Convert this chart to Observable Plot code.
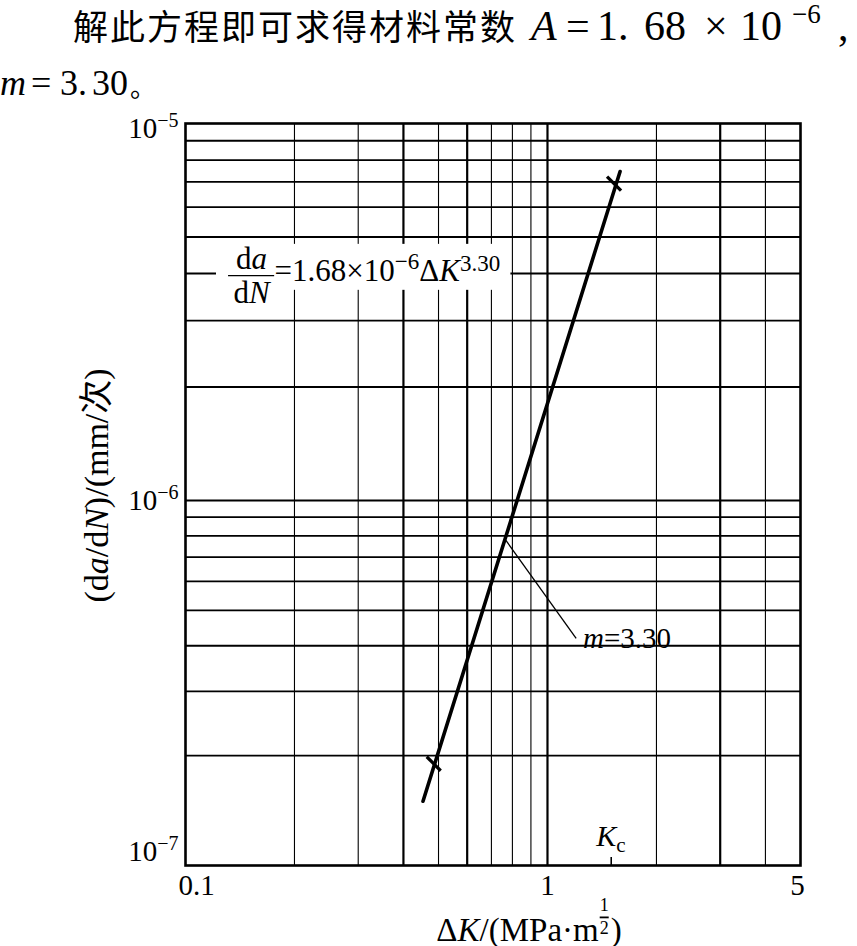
<!DOCTYPE html>
<html>
<head>
<meta charset="utf-8">
<script src="https://cdn.jsdelivr.net/npm/d3@7"></script>
<script src="https://cdn.jsdelivr.net/npm/@observablehq/plot@0.6"></script>
<style>
  body { margin: 0; background: #fff; }
  svg { display: block; }
  #head text { fill: #000; }
  #head .lat { font-family: "Liberation Serif", "Times New Roman", "DejaVu Serif", serif; }
  #head .cjk { font-family: "Noto Sans CJK SC", sans-serif; }
</style>
</head>
<body>
<svg id="head" width="857" height="105" xmlns="http://www.w3.org/2000/svg">
  <text class="cjk" x="73" y="40" font-size="35" letter-spacing="2">解此方程即可求得材料常数</text>
  <g class="lat" font-size="42">
    <text class="lat" x="531" y="40" font-style="italic">A</text>
    <text class="lat" x="566" y="40">=</text>
    <text class="lat" x="597" y="40">1.</text>
    <text class="lat" x="644" y="40">68</text>
    <text class="lat" x="704" y="40">×</text>
    <text class="lat" x="740" y="40">10</text>
    <text class="lat" x="792" y="23" font-size="27">−6</text>
    <text class="lat" x="838" y="40">,</text>
  </g>
  <g class="lat" font-size="36">
    <text class="lat" x="0" y="95" font-style="italic">m</text>
    <text class="lat" x="31" y="95">=</text>
    <text class="lat" x="60" y="95">3.</text>
    <text class="lat" x="92" y="95">30</text>
    <text class="cjk" x="130" y="97" font-size="26">。</text>
  </g>
</svg>
<div id="chart"></div>
<script>
// ---- data ----
const xTickValues = [0.1, 1, 5];
const xGridThin = [0.2, 0.3, 0.5, 0.7, 0.8, 0.9, 2, 4];
const xGridThick = [0.4, 0.6, 1, 3];
const yTickValues = [1e-7, 1e-6, 1e-5];
const yGrid = [2e-7, 3e-7, 4e-7, 5e-7, 6e-7, 7e-7, 8e-7, 9e-7, 1e-6,
               2e-6, 3e-6, 4e-6, 5e-6, 6e-6, 7e-6, 8e-6, 9e-6];
// fitted line da/dN = A ΔK^m (end points)
const lineDK = [0.453, 1.587];
const lineRate = [1.50e-7, 7.46e-6];
// the two marked points
const pointDK = [0.485, 1.527];
const pointRate = [1.90e-7, 6.93e-6];
const KcValue = 1.5;
// annotations
const slopeText = "m=3.30";
const leaderFrom = [0.768, 7.77e-7];
const leaderTo = [1.2, 4.19e-7];
const slopeTextPos = [1.254, 4.17e-7];
const eqPos = [0.1315, 3.95e-6];
const eqBarEnd = 0.1763;
const eqBox = [0.1218, 0.7925, 3.61e-6, 4.78e-6];
const eqText = "=1.68×10−6ΔK3.30";
const yLabel = "(da/dN)/(mm/次)";
const xLabel = "ΔK/(MPa·m1/2)";

const lineData = lineDK.map((k, i) => ({k, r: lineRate[i]}));
const pointData = pointDK.map((k, i) => ({k, r: pointRate[i]}));

const slash = {
  draw(ctx, size) {
    const r = Math.sqrt(size / Math.PI) * 0.7;
    ctx.moveTo(-r, -r);
    ctx.lineTo(r, r);
  }
};

const serif = "\"Liberation Serif\", \"Times New Roman\", \"DejaVu Serif\", \"Noto Sans CJK SC\", serif";

const chart = Plot.plot({
  width: 857,
  height: 841,
  marginLeft: 185,
  marginRight: 57,
  marginTop: 18,
  marginBottom: 81,
  x: {type: "log", domain: [0.1, 5]},
  y: {type: "log", domain: [1e-7, 1e-6, 1e-5], range: [760, 395, 18]},
  style: {fontFamily: serif, fontSize: "29px", color: "black", background: "white", overflow: "visible"},
  marks: [
    Plot.ruleY(yGrid, {stroke: "black", strokeWidth: 1.8}),
    Plot.ruleX(xGridThin, {stroke: "black", strokeWidth: 1.1}),
    Plot.ruleX(xGridThick, {stroke: "black", strokeWidth: 2.2}),
    Plot.rect([eqBox], {x1: d => d[0], x2: d => d[1], y1: d => d[2], y2: d => d[3], fill: "white"}),
    Plot.frame({stroke: "black", strokeWidth: 2.6}),
    Plot.line(lineData, {x: "k", y: "r", stroke: "black", strokeWidth: 3.6}),
    Plot.dot(pointData, {x: "k", y: "r", symbol: slash, r: 10, stroke: "black", fill: "none", strokeWidth: 3.2}),
    Plot.link([[leaderFrom, leaderTo]], {x1: d => d[0][0], y1: d => d[0][1], x2: d => d[1][0], y2: d => d[1][1], stroke: "black", strokeWidth: 1.3}),
    Plot.text([slopeTextPos], {x: d => d[0], y: d => d[1], text: () => slopeText, textAnchor: "start", lineAnchor: "middle", fontSize: 29}),
    // K_c marker
    Plot.ruleX([KcValue], {stroke: "black", strokeWidth: 1.6, insetTop: 734}),
    Plot.text([KcValue], {x: d => d, frameAnchor: "bottom", text: () => "Kc", textAnchor: "start", lineAnchor: "bottom", dx: -15, dy: -20, fontSize: 30}),
    // equation label
    Plot.ruleY([eqPos[1]], {x1: eqPos[0], x2: eqBarEnd, stroke: "black", strokeWidth: 1.3}),
    Plot.text([eqPos], {x: d => d[0], y: d => d[1], text: () => "da", textAnchor: "middle", lineAnchor: "bottom", dx: 23, dy: -7, fontSize: 31}),
    Plot.text([eqPos], {x: d => d[0], y: d => d[1], text: () => "dN", textAnchor: "middle", lineAnchor: "bottom", dx: 23, dy: 27, fontSize: 31}),
    Plot.text([eqPos], {x: d => d[0], y: d => d[1], text: () => eqText, textAnchor: "start", lineAnchor: "bottom", dx: 46, dy: 5, fontSize: 31}),
    // axis labels
    Plot.text([0], {frameAnchor: "left", text: () => yLabel, rotate: -90, textAnchor: "middle", lineAnchor: "middle", dx: -88, dy: -9, fontSize: 34}),
    Plot.text([0], {frameAnchor: "bottom", text: () => xLabel, textAnchor: "middle", lineAnchor: "bottom", dx: 36, dy: 75, fontSize: 33}),
    // tick labels
    Plot.axisX([xTickValues[0]], {tickSize: 0, tickPadding: 9, tickFormat: d => String(d), dx: 11, label: null}),
    Plot.axisX([xTickValues[1]], {tickSize: 0, tickPadding: 9, tickFormat: d => String(d), label: null}),
    Plot.axisX([xTickValues[2]], {tickSize: 0, tickPadding: 9, tickFormat: d => String(d), dx: -3, label: null}),
    Plot.axisY([yTickValues[0]], {tickSize: 0, tickPadding: 7, tickFormat: d => "10^" + Math.round(Math.log10(d)), dy: -14, label: null}),
    Plot.axisY([yTickValues[1]], {tickSize: 0, tickPadding: 7, tickFormat: d => "10^" + Math.round(Math.log10(d)), label: null}),
    Plot.axisY([yTickValues[2]], {tickSize: 0, tickPadding: 7, tickFormat: d => "10^" + Math.round(Math.log10(d)), dy: 5, label: null})
  ]
});

document.getElementById("chart").appendChild(chart);

// ---- rich text (italics, superscripts, subscripts) ----
const sup = (t, size, shift) => ({t, size, shift});
const RICH = {
  "10^-5": [{t: "10"}, sup("−5", 20, -11)],
  "10^-6": [{t: "10"}, sup("−6", 20, -11)],
  "10^-7": [{t: "10"}, sup("−7", 20, -11)],
  "Kc": [{t: "K", italic: true}, {t: "c", size: 21, shift: 6}],
  "m=3.30": [{t: "m", italic: true}, {t: "=3.30"}],
  "da": [{t: "d"}, {t: "a", italic: true}],
  "dN": [{t: "d"}, {t: "N", italic: true}],
  "=1.68×10−6ΔK3.30": [{t: "=1.68×10"}, sup("−6", 23, -12), {t: "Δ"}, {t: "K", italic: true}, sup("3.30", 23, -10)],
  "(da/dN)/(mm/次)": [{t: "(d"}, {t: "a", italic: true}, {t: "/d"}, {t: "N", italic: true}, {t: ")/(mm/"}, {t: "次", family: "Noto Sans CJK SC"}, {t: ")"}],
  "ΔK/(MPa·m1/2)": [{t: "Δ"}, {t: "K", italic: true}, {t: "/(MPa·m"}, {t: "1", size: 18, shift: -30, dx: 1},
                     {t: "2", size: 18, shift: -7, dx: -9, deco: "overline"}, {t: ")", shift: 0, dx: 2}]
};
const NS = "http://www.w3.org/2000/svg";
chart.querySelectorAll("text").forEach(el => {
  const segs = RICH[el.textContent];
  if (!segs) return;
  el.textContent = "";
  let cur = 0;
  for (const s of segs) {
    const ts = document.createElementNS(NS, "tspan");
    const off = s.shift || 0;
    const dy = off - cur;
    cur = off;
    if (dy) ts.setAttribute("dy", dy);
    if (s.dx) ts.setAttribute("dx", s.dx);
    if (s.italic) ts.setAttribute("font-style", "italic");
    if (s.size) ts.setAttribute("font-size", s.size);
    if (s.family) ts.setAttribute("font-family", s.family);
    if (s.deco) ts.setAttribute("text-decoration", s.deco);
    ts.textContent = s.t;
    el.appendChild(ts);
  }
});
</script>
</body>
</html>
